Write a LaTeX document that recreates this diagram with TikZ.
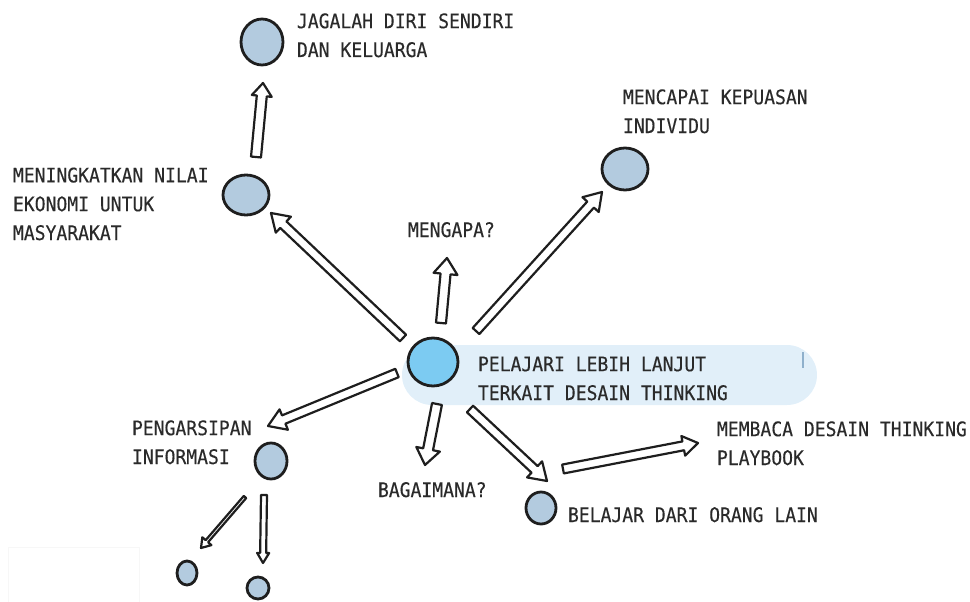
\documentclass[tikz,border=0pt]{standalone}
\usepackage{fontspec}
\newfontfamily\labelfont[FakeStretch=0.9,FakeBold=0.3]{DejaVu Sans Mono}
\usetikzlibrary{calc,shapes.geometric}

\definecolor{ink}{HTML}{1E1E1E}
\definecolor{txt}{HTML}{2A2A2A}
\definecolor{dotfill}{HTML}{B3CBDF}
\definecolor{hubfill}{HTML}{7CCBF2}
\definecolor{band}{HTML}{E1EFF9}
\definecolor{marker}{HTML}{8FB0CC}

\tikzset{
  bubble/.style={ellipse, draw=ink, line width=2.8pt, fill=dotfill, inner sep=0pt},
  hub/.style={bubble, fill=hubfill},
  % anchored on the baseline of the last line
  lbl/.style={anchor=base west, inner sep=0pt, outer sep=0pt, align=left,
              text=txt, font=\labelfont\fontsize{20.05}{28.8}\selectfont},
  arrowbody/.style={draw=ink, fill=white, line width=2.2pt, line join=round},
}

% hollow block arrow: {tail}{tip}{shaft half width}{head half width}{head length}
\newcommand{\blockarrow}[5]{%
  \coordinate (ba-q) at ($(#2)!#5!(#1)$);
  \draw[arrowbody]
    ($(#1)!#3!90:(#2)$) --
    ($(ba-q)!#3!90:(#2)$) --
    ($(ba-q)!#4!90:(#2)$) --
    (#2) --
    ($(ba-q)!#4!-90:(#2)$) --
    ($(ba-q)!#3!-90:(#2)$) --
    ($(#1)!#3!-90:(#2)$) -- cycle;
}

\begin{document}
\begin{tikzpicture}[x=1pt,y=-1pt]
\useasboundingbox (0,0) rectangle (970,602);

% faint frame in the lower left corner
\draw[black!3, line width=1pt] (8,602) |- (139,547) -- (139,602);

% highlight band behind the central topic
\fill[band, rounded corners=30pt] (402,345) rectangle (817,405);
\draw[marker, line width=1.2pt] (803,352) -- (803,368);

% bubbles
\node[bubble, minimum width=42pt, minimum height=46pt] (jaga)    at (262,42)  {};
\node[bubble, minimum width=46pt, minimum height=40pt] (ekonomi) at (246,195) {};
\node[bubble, minimum width=46pt, minimum height=42pt] (puas)    at (625,169) {};
\node[hub,    minimum width=50pt, minimum height=48pt] (pusat)   at (433,362) {};
\node[bubble, minimum width=32pt, minimum height=36pt] (arsip)   at (271,461) {};
\node[bubble, minimum width=20pt, minimum height=24pt] (daun1)   at (187,573) {};
\node[bubble, minimum width=22pt, minimum height=22pt] (daun2)   at (258,588) {};
\node[bubble, minimum width=30pt, minimum height=32pt] (belajar) at (541,508) {};

% labels
\node[lbl] (t-jaga)    at (297,57)  {JAGALAH DIRI SENDIRI\\DAN KELUARGA};
\node[lbl] (t-puas)    at (623,133) {MENCAPAI KEPUASAN\\INDIVIDU};
\node[lbl] (t-ekonomi) at (13,240)  {MENINGKATKAN NILAI\\EKONOMI UNTUK\\MASYARAKAT};
\node[lbl] (t-mengapa) at (408,237) {MENGAPA?};
\node[lbl] (t-pusat)   at (478,400) {PELAJARI LEBIH LANJUT\\TERKAIT DESAIN THINKING};
\node[lbl] (t-arsip)   at (132,464) {PENGARSIPAN\\INFORMASI};
\node[lbl] (t-bagai)   at (378,497) {BAGAIMANA?};
\node[lbl] (t-baca)    at (717,465) {MEMBACA DESAIN THINKING\\PLAYBOOK};
\node[lbl] (t-belajar) at (568,522) {BELAJAR DARI ORANG LAIN};

% arrow end points
\coordinate (a1s) at (256,157); \coordinate (a1e) at (263,83);
\coordinate (a2s) at (403,338); \coordinate (a2e) at (271,213);
\coordinate (a3s) at (441,323); \coordinate (a3e) at (447,258);
\coordinate (a4s) at (476,331); \coordinate (a4e) at (602,192);
\coordinate (a5s) at (397,373); \coordinate (a5e) at (268,426);
\coordinate (a6s) at (437,404); \coordinate (a6e) at (425,465);
\coordinate (a7s) at (470,409); \coordinate (a7e) at (547,481);
\coordinate (a8s) at (563,469); \coordinate (a8e) at (698,443);
\coordinate (a9s) at (245,497); \coordinate (a9e) at (201,548);
\coordinate (a10s) at (264,495); \coordinate (a10e) at (263,563);

% arrows
\blockarrow{a1s}{a1e}{5pt}{10pt}{13pt}
\blockarrow{a2s}{a2e}{4.5pt}{11pt}{17pt}
\blockarrow{a3s}{a3e}{5pt}{12pt}{16pt}
\blockarrow{a4s}{a4e}{4.5pt}{11pt}{17pt}
\blockarrow{a5s}{a5e}{4.5pt}{11pt}{17pt}
\blockarrow{a6s}{a6e}{5pt}{12pt}{16pt}
\blockarrow{a7s}{a7e}{4.5pt}{11pt}{17pt}
\blockarrow{a8s}{a8e}{4.5pt}{10pt}{15pt}
\blockarrow{a9s}{a9e}{1.6pt}{6pt}{9pt}
\blockarrow{a10s}{a10e}{3pt}{6pt}{10pt}
\end{tikzpicture}
\end{document}
